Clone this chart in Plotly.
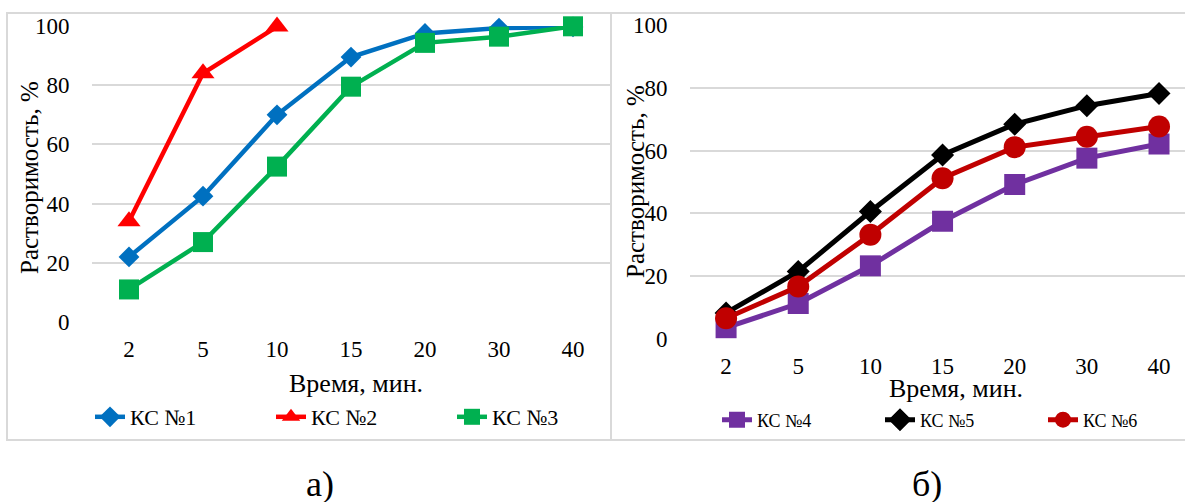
import plotly.graph_objects as go

W, H = 1185, 502

# ---- data ----
times = ["2", "5", "10", "15", "20", "30", "40"]
ks1 = [22, 42.5, 70, 89.5, 97.5, 99.3, 99.7]
ks2 = [34, 84, 99.8]
ks3 = [11, 27, 52.5, 79.5, 94.3, 96.4, 99.9]
ks4 = [3.6, 11.3, 23.3, 37.5, 49.2, 57.6, 62.1]
ks5 = [8.3, 21.5, 40.6, 58.6, 68.4, 74.3, 78.2]
ks6 = [6.6, 16.7, 33.2, 51.2, 61.1, 64.4, 67.7]
y_ticks = [0, 20, 40, 60, 80, 100]
x_title = "Время, мин."
y_title = "Растворимость, %"

FONT = "Liberation Serif"
GRID = "#D9D9D9"


def px(x):
    return x / W


def py(y):
    return 1 - y / H


fig = go.Figure()

left_series = [
    ("КС №1", ks1, "#0070C0", "diamond", 16),
    ("КС №2", ks2, "#FF0000", "triangle-up", 20),
    ("КС №3", ks3, "#00B050", "square", 20),
]
for name, vals, col, sym, sz in left_series:
    fig.add_trace(go.Scatter(
        x=times[:len(vals)], y=vals, name=name, mode="lines+markers",
        line=dict(color=col, width=4.5),
        marker=dict(color=col, symbol=sym, size=sz, line=dict(width=0)),
        xaxis="x", yaxis="y", legend="legend", cliponaxis=False,
    ))

right_series = [
    ("КС №4", ks4, "#7030A0", "square", 21, 0),
    ("КС №5", ks5, "#000000", "diamond", 15, 2.5),
    ("КС №6", ks6, "#C00000", "circle", 22, 0),
]
for name, vals, col, sym, sz, lw in right_series:
    fig.add_trace(go.Scatter(
        x=times[:len(vals)], y=vals, name=name, mode="lines+markers",
        line=dict(color=col, width=5),
        marker=dict(color=col, symbol=sym, size=sz, line=dict(width=lw, color=col)),
        xaxis="x2", yaxis="y2", legend="legend2", cliponaxis=False,
    ))

tickfont = dict(family=FONT, size=23, color="#000000")

axis_common_x = dict(
    type="category", categoryorder="array", categoryarray=times,
    showgrid=False, showline=False, zeroline=False,
    ticks="outside", ticklen=6, tickcolor="rgba(0,0,0,0)",
    tickfont=tickfont, fixedrange=True,
)
axis_common_y = dict(
    range=[0, 100], tickvals=y_ticks, showgrid=True, gridcolor=GRID, gridwidth=1.5,
    zeroline=False, showline=False,
    ticks="outside", ticklen=17, tickcolor="rgba(0,0,0,0)",
    tickfont=tickfont, fixedrange=True,
)

fig.update_layout(
    width=W, height=H,
    margin=dict(l=0, r=0, t=0, b=0, autoexpand=False),
    paper_bgcolor="white", plot_bgcolor="white",
    font=dict(family=FONT, color="#000000"),
    xaxis=dict(domain=[px(92), px(610)], range=[-0.5, 6.5], anchor="y", **axis_common_x),
    yaxis=dict(domain=[py(322), py(26)], anchor="x", **axis_common_y),
    xaxis2=dict(domain=[px(690), 1.0], range=[-0.5, 6.36], anchor="y2", **axis_common_x),
    yaxis2=dict(domain=[py(339), py(25)], anchor="x2", **axis_common_y),
    legend=dict(
        orientation="h", x=px(90), y=py(417), xanchor="left", yanchor="middle",
        font=dict(family=FONT, size=22, color="#000000"),
        entrywidth=136, entrywidthmode="pixels", bgcolor="rgba(0,0,0,0)",
        itemclick=False, itemdoubleclick=False,
    ),
    legend2=dict(
        orientation="h", x=px(717), y=py(420), xanchor="left", yanchor="middle",
        font=dict(family=FONT, size=18, color="#000000"),
        entrywidth=118, entrywidthmode="pixels", bgcolor="rgba(0,0,0,0)",
        itemclick=False, itemdoubleclick=False,
    ),
    showlegend=True,
)

# panel borders
fig.add_shape(type="rect", xref="paper", yref="paper",
              x0=px(7), x1=px(611), y0=py(440), y1=py(13),
              line=dict(color=GRID, width=2), layer="below")
fig.add_shape(type="rect", xref="paper", yref="paper",
              x0=px(611), x1=px(1200), y0=py(440), y1=py(13),
              line=dict(color=GRID, width=2), layer="below")

annos = [
    dict(text=x_title, x=px(356), y=py(383), size=26, angle=0),
    dict(text=x_title, x=px(956), y=py(388), size=26, angle=0),
    dict(text=y_title, x=px(29), y=py(178), size=25, angle=-90),
    dict(text=y_title, x=px(635), y=py(182), size=25, angle=-90),
    dict(text="а)", x=px(320), y=py(484), size=36, angle=0),
    dict(text="б)", x=px(927), y=py(484), size=36, angle=0),
]
for a in annos:
    fig.add_annotation(
        text=a["text"], x=a["x"], y=a["y"], xref="paper", yref="paper",
        xanchor="center", yanchor="middle", showarrow=False, textangle=a["angle"],
        font=dict(family=FONT, size=a["size"], color="#000000"),
    )

fig.write_html("out.html")
